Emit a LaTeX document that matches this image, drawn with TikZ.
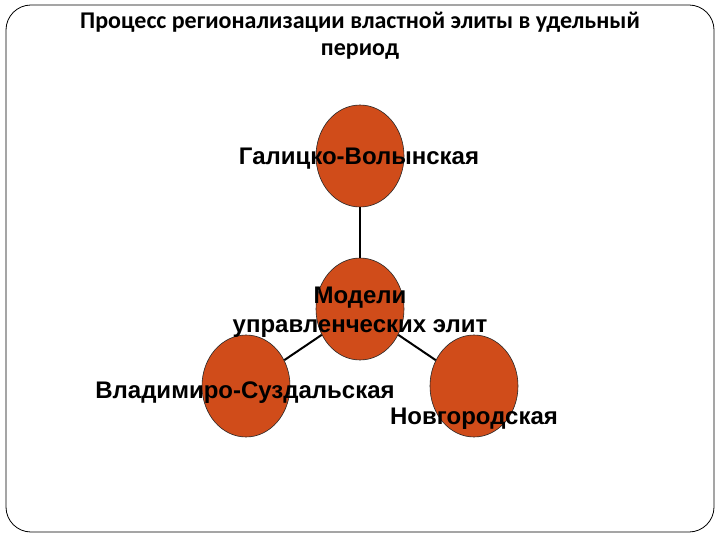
\documentclass[tikz,border=0pt]{standalone}
\usepackage{fontspec}
\setmainfont{Liberation Sans}
\newfontfamily\titlefont{Carlito}
\usetikzlibrary{shapes.geometric}
\definecolor{regionfill}{RGB}{208,76,26}
\tikzset{region/.style={ellipse, draw=black!85, line width=0.6pt, fill=regionfill, minimum width=88pt, minimum height=102pt, inner sep=0pt}, regionname/.style={font=\bfseries\fontsize{24}{29}\selectfont, inner sep=0pt, align=center}, link/.style={line width=2pt}}

\begin{document}
\begin{tikzpicture}[x=1pt, y=-1pt]
      \useasboundingbox (0,0) rectangle (720,540);
      \draw [rounded corners=25pt, line width=0.8pt] (6,5) rectangle (714,532);
      \node [font=\titlefont\bfseries\fontsize{24}{27}\selectfont, align=center, anchor=north, inner sep=0pt] (title) at (360,12) {Процесс регионализации властной элиты в удельный\\период};
      \node [region] (galich) at (360,156) {};
      \node [region] (models) at (360,309) {};
      \node [region] (vladimir) at (246,386) {};
      \node [region] (novgorod) at (474,386) {};
      \draw [link] (models) -- (galich);
      \draw [link] (models) -- (vladimir);
      \draw [link] (models) -- (novgorod);
      \node [regionname, anchor=base] (galichname) at (359,165) {Галицко-Волынская};
      \node [regionname, anchor=north] (modelsname) at (360,287) {Модели\\управленческих элит};
      \node [regionname, anchor=base] (vladimirname) at (245,398) {Владимиро-Суздальская};
      \node [regionname, anchor=base] (novgorodname) at (474,424) {Новгородская};
    \end{tikzpicture}
\end{document}
